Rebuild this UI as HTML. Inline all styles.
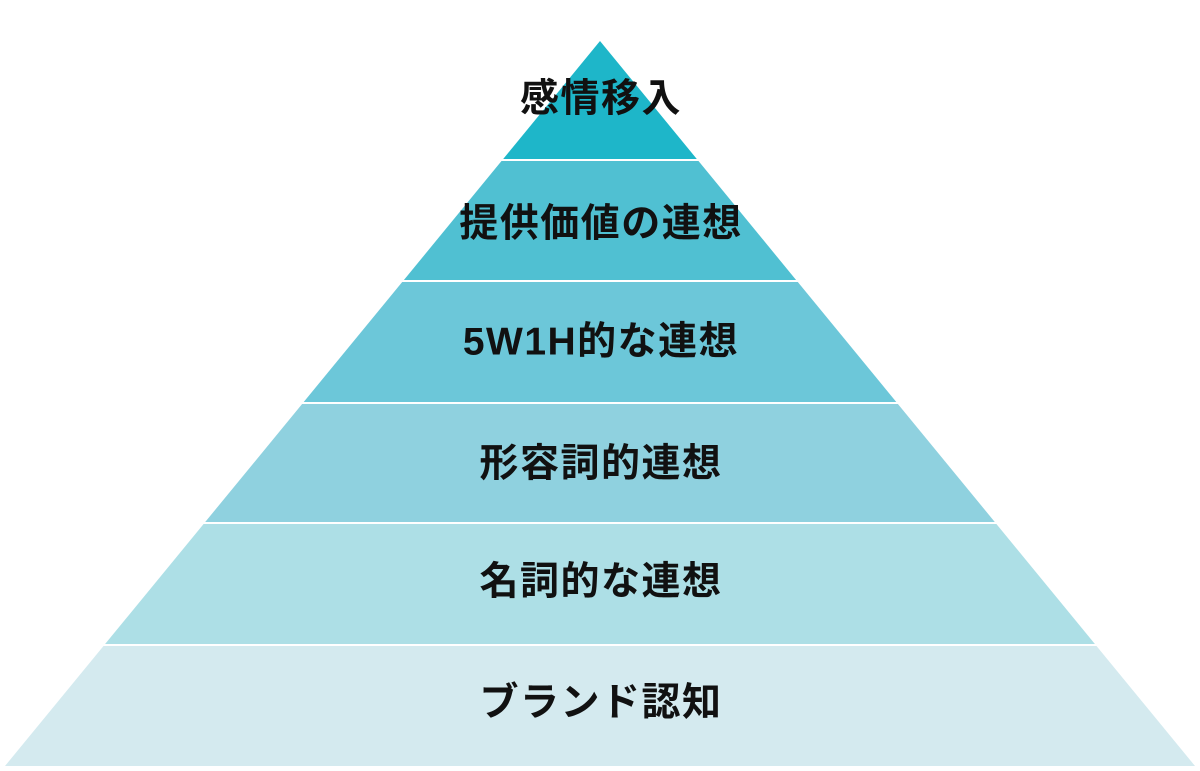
<!DOCTYPE html>
<html><head><meta charset="utf-8"><style>
html,body{margin:0;padding:0;background:#fff;width:1200px;height:771px;overflow:hidden}
svg text{font-family:"Liberation Sans","Noto Sans CJK JP",sans-serif;font-weight:bold;font-size:39px;letter-spacing:1.5px;fill:#111;text-anchor:middle;dominant-baseline:central}
</style></head><body>
<svg width="1200" height="771" viewBox="0 0 1200 771">
<polygon points="600,41 696.8,159 503.2,159" fill="#1eb6c9"/>
<polygon points="501.5,161 698.5,161 796.1,280 403.9,280" fill="#50c0d2"/>
<polygon points="402.2,282 797.8,282 896.3,402 303.7,402" fill="#6cc7d9"/>
<polygon points="302.1,404 897.9,404 994.8,522 205.2,522" fill="#8fd1df"/>
<polygon points="203.6,524 996.4,524 1094.9,644 105.1,644" fill="#addfe6"/>
<polygon points="103.5,646 1096.5,646 1195,766 5,766" fill="#d4eaef"/>
<text x="601" y="99">感情移入</text>
<text x="601" y="224">提供価値の連想</text>
<text x="601" y="342">5W1H的な連想</text>
<text x="601" y="464">形容詞的連想</text>
<text x="601" y="582">名詞的な連想</text>
<text x="601" y="703">ブランド認知</text>
</svg>
</body></html>
